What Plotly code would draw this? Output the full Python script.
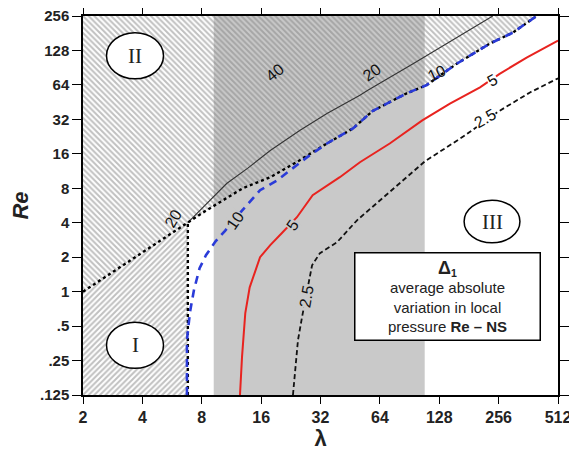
import numpy as np
import plotly.graph_objects as go

# ---- data ----
x_ticks = [2, 4, 8, 16, 32, 64, 128, 256, 512]
y_ticks = [0.125, 0.25, 0.5, 1, 2, 4, 8, 16, 32, 64, 128, 256]
y_tick_text = [".125", ".25", ".5", "1", "2", "4", "8", "16", "32", "64", "128", "256"]

band_lam = [9.2, 108]          # gray band in lambda

# boundary of region II (dotted)
bound_lam = [2, 6.8, 8.1, 12.9, 17.8, 25, 34.5, 46.8, 59, 87.5, 110, 157, 231, 302, 399]
bound_re = [1, 4.0, 4.9, 8, 10, 14, 19.7, 26.7, 38, 54, 63.5, 98, 147, 183, 256]

# region I limit (vertical dotted)
lam_I = 6.8
re_I_top = 4.0

# contour 20 (black solid)
c20_lam = [6.8, 9.1, 10.7, 13.7, 17.8, 25.1, 34.5, 50.7, 55.6, 94.3, 140, 239]
c20_re = [4.0, 6.7, 8.8, 12.0, 17.1, 25.6, 36, 52, 57.4, 98, 147, 256]

# contour 10 (blue dashed)
c10_lam = [6.73, 6.73, 6.97, 7.3, 7.8, 8.4, 9.4, 10.5, 12.8, 15.8, 19.3, 23.3, 27.3, 34.5,
           46.8, 59, 87.5, 110, 157, 231, 302, 399]
c10_re = [0.125, 0.376, 0.66, 1.03, 1.6, 2.08, 2.75, 3.4, 5.1, 7.7, 9.4, 12, 14.9, 19.7,
          26.7, 38, 54, 63.5, 98, 147, 183, 256]

# contour 5 (red)
c5_lam = [12.5, 12.8, 13.3, 14.0, 15.8, 17.8, 20.4, 24.3, 29.2, 32.8, 40.1, 50.7, 71.8,
          105, 145, 206, 259, 355, 512]
c5_re = [0.125, 0.268, 0.65, 1.09, 2.0, 2.55, 3.25, 4.47, 6.96, 8, 10, 13.5, 19.7,
         31.3, 44, 61, 80, 111, 156]

# contour 2.5 (black dashed)
c25_lam = [23.2, 23.8, 24.6, 25.8, 27.7, 29.0, 31.8, 38.8, 49, 64, 108, 173, 251, 369, 512]
c25_re = [0.125, 0.195, 0.376, 0.6, 1.14, 1.7, 2.17, 2.7, 4.2, 6.3, 13.7, 23.2, 36.8, 55, 73]

# contour labels: text, lambda, Re
lab_text = ["40", "20", "20", "10", "10", "5", "5", "2.5", "2.5"]
lab_lam = [18.8, 58.3, 5.73, 11.8, 124, 23, 237, 27.3, 218]
lab_re = [82, 82, 4.37, 4.2, 80, 3.8, 70, 0.9, 32.7]

# region markers: text, lambda, Re
reg_text = ["II", "I", "III"]
reg_lam = [3.67, 3.67, 237]
reg_re = [115, 0.34, 4.1]

# ---- figure ----
xmin, xmax = 2, 512
ymin, ymax = 0.125, 256
lg = np.log10
GRAY = "#c9c9c9"

fig = go.Figure()

# gray band
fig.add_trace(go.Scatter(
    x=[band_lam[0], band_lam[1], band_lam[1], band_lam[0]],
    y=[ymin, ymin, ymax, ymax], fill="toself", mode="lines",
    line=dict(width=0), fillcolor=GRAY, hoverinfo="skip", showlegend=False))

hatch = dict(size=4, solidity=0.5, fgcolor="#828282",
             bgcolor="rgba(0,0,0,0)", fillmode="overlay")

# region II hatch
fig.add_trace(go.Scatter(
    x=bound_lam + [xmin], y=bound_re + [ymax], fill="toself", mode="lines",
    line=dict(width=0), fillcolor="rgba(0,0,0,0)",
    fillpattern=dict(shape="\\", **hatch), hoverinfo="skip", showlegend=False))

# region I hatch
fig.add_trace(go.Scatter(
    x=[xmin, lam_I, lam_I, xmin], y=[ymin, ymin, re_I_top, bound_re[0]],
    fill="toself", mode="lines", line=dict(width=0), fillcolor="rgba(0,0,0,0)",
    fillpattern=dict(shape="/", **hatch), hoverinfo="skip", showlegend=False))

# contours
fig.add_trace(go.Scatter(x=c20_lam, y=c20_re, mode="lines",
                         line=dict(color="#333333", width=1.1), showlegend=False))
fig.add_trace(go.Scatter(x=c5_lam, y=c5_re, mode="lines",
                         line=dict(color="#e8231f", width=2), showlegend=False))
fig.add_trace(go.Scatter(x=c25_lam, y=c25_re, mode="lines",
                         line=dict(color="#111111", width=1.8, dash="5px,3px"), showlegend=False))

# dotted boundaries
fig.add_trace(go.Scatter(x=bound_lam, y=bound_re, mode="lines",
                         line=dict(color="black", width=2.4, dash="dot"), showlegend=False))
fig.add_trace(go.Scatter(x=[lam_I, lam_I], y=[ymin, re_I_top], mode="lines",
                         line=dict(color="black", width=2.4, dash="dot"), showlegend=False))

# contour 10 on top of dotted boundary
fig.add_trace(go.Scatter(x=c10_lam, y=c10_re, mode="lines",
                         line=dict(color="#2a3bd8", width=2.6, dash="8px,6px"), showlegend=False))

# contour labels
angles = [-40, -35, -60, -55, -25, -55, -30, -80, -30]
bgs = [None, None, None, GRAY, None, GRAY, "white", GRAY, "white"]
for t, xl, yl, a, bg in zip(lab_text, lab_lam, lab_re, angles, bgs):
    fig.add_annotation(x=lg(xl), y=lg(yl), text=t, showarrow=False, textangle=a,
                       font=dict(family="Liberation Sans", size=16, color="#111"),
                       bgcolor=bg if bg else "rgba(0,0,0,0)", borderpad=0)

# region circles (half-widths in octaves)
half = [(0.48, 0.67), (0.48, 0.67), (0.47, 0.62)]
for t, xl, yl, (hx, hy) in zip(reg_text, reg_lam, reg_re, half):
    fig.add_shape(type="circle", xref="x", yref="y",
                  x0=xl * 2 ** -hx, x1=xl * 2 ** hx, y0=yl * 2 ** -hy, y1=yl * 2 ** hy,
                  line=dict(color="black", width=1.5), fillcolor="white", layer="above")
    fig.add_annotation(x=lg(xl), y=lg(yl), text=t, showarrow=False,
                       font=dict(family="Liberation Serif", size=21, color="#222"))

# info box
fig.add_annotation(x=lg(141), y=lg(0.91), xanchor="center", yanchor="middle",
                   text="<b><span style='font-size:18px'>Δ</span><sub>1</sub></b><br>average absolute<br>variation in local<br>pressure <b>Re – NS</b>",
                   showarrow=False, width=182, height=84, bgcolor="white",
                   bordercolor="black", borderwidth=1.5, borderpad=1,
                   font=dict(family="Liberation Sans", size=15, color="#222"))

# the page body has an 8px margin: figure is sized/placed to land on the 577x453 view
fig.update_layout(
    width=569, height=445, paper_bgcolor="white", plot_bgcolor="white",
    margin=dict(l=75, r=19, t=7.5, b=58, pad=0),
    xaxis=dict(type="log", range=[lg(xmin), lg(xmax)], tickvals=x_ticks,
               ticktext=[f"<b>{v}</b>" for v in x_ticks], ticks="outside", ticklen=7,
               tickwidth=1.3, tickcolor="black", mirror="ticks", showline=True,
               linecolor="black", linewidth=1.5, showgrid=False, zeroline=False,
               automargin=False, ticklabeloverflow="allow",
               tickfont=dict(family="Liberation Sans", size=16, color="#222"),
               title=dict(text="<b>λ</b>", standoff=4,
                          font=dict(family="Liberation Sans", size=22, color="#222"))),
    yaxis=dict(type="log", range=[lg(ymin), lg(ymax)], tickvals=y_ticks,
               ticktext=[f"<b>{v}</b>" for v in y_tick_text], ticks="outside", ticklen=9,
               tickwidth=1.3, tickcolor="black", mirror="ticks", showline=True,
               linecolor="black", linewidth=1.5, showgrid=False, zeroline=False,
               automargin=False, ticklabeloverflow="allow",
               tickfont=dict(family="Liberation Sans", size=15, color="#222"),
               title=dict(text="<b><i>Re</i></b>", standoff=8,
                          font=dict(family="Liberation Sans", size=22, color="#222"))),
)

fig.write_html("out.html")
